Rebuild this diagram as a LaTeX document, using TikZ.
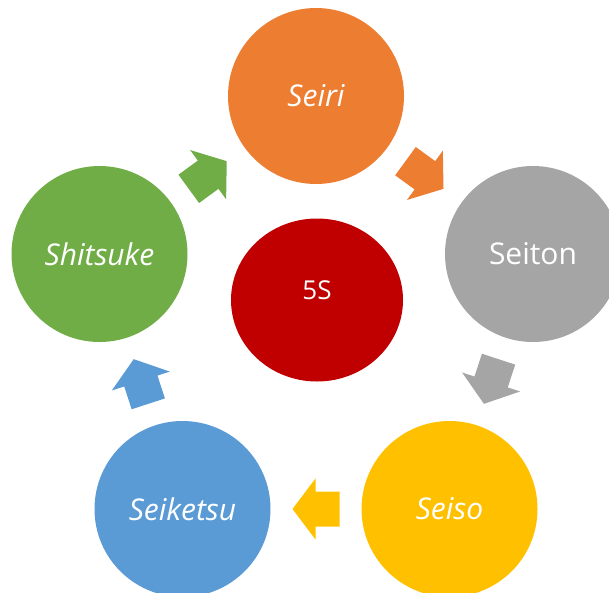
\documentclass[tikz,border=0pt]{standalone}
\usepackage{fontspec}
\setmainfont{Open Sans}
\usetikzlibrary{shapes.geometric}
\definecolor{sOrange}{HTML}{ED7D31}
\definecolor{sGray}{HTML}{A5A5A5}
\definecolor{sYellow}{HTML}{FFC000}
\definecolor{sBlue}{HTML}{5B9BD5}
\definecolor{sGreen}{HTML}{70AD47}
\definecolor{sRed}{HTML}{C00000}
\tikzset{>=latex}
\tikzset{
  step circle/.style = {circle, minimum size = 176pt, inner sep = 0pt, text = white, font = \fontsize{30}{36}\selectfont},
  block arrow/.pic = {\fill (-23.5,-17.5) -- (0.5,-17.5) -- (0.5,-30.5) -- (23.5,0) -- (0.5,30.5) -- (0.5,17.5) -- (-23.5,17.5) -- cycle;}
}

\begin{document}
\begin{tikzpicture}[x = 1pt, y = -1pt]
\useasboundingbox (0,0) rectangle (609,592);

% the five steps
\node[step circle, fill = sOrange] (seiri) at (316,96) {\itshape Seiri};
\node[step circle, fill = sGray] (seiton) at (533,254) {Seiton};
\node[step circle, fill = sYellow] (seiso) at (449.5,509) {\itshape Seiso};
\node[step circle, fill = sBlue] (seiketsu) at (182.5,509) {\itshape Seiketsu};
\node[step circle, fill = sGreen] (shitsuke) at (99.5,254) {\itshape Shitsuke};

\node[ellipse, fill = sRed, minimum width = 172pt, minimum height = 163pt, inner sep = 0pt, text depth = 20pt, text = white, font = \fontsize{26}{30}\selectfont] (core) at (317,300) {5S};

% arrows between the steps
\path (seiri) -- pic[sOrange, pos = 0.5, sloped, allow upside down] {block arrow} (seiton);
\path (seiton) -- pic[sGray, pos = 0.5, sloped, allow upside down] {block arrow} (seiso);
\path (seiso) -- pic[sYellow, pos = 0.5, sloped, allow upside down] {block arrow} (seiketsu);
\path (seiketsu) -- pic[sBlue, pos = 0.5, sloped, allow upside down] {block arrow} (shitsuke);
\path (shitsuke) -- pic[sGreen, pos = 0.5, sloped, allow upside down] {block arrow} (seiri);
\end{tikzpicture}
\end{document}
